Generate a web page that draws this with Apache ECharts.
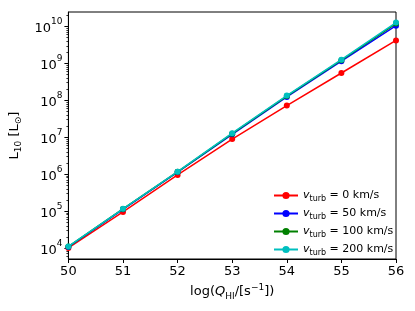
<!DOCTYPE html>
<html><head><meta charset="utf-8">
<script src="https://cdn.jsdelivr.net/npm/echarts@6/dist/echarts.min.js"></script>
<style>html,body{margin:0;padding:0;background:#fff}#c{width:415px;height:311px}</style>
</head><body><div id="c"></div>
<script>
const xValues = [50, 51, 52, 53, 54, 55, 56];
const L_v0   = [1.0e4, 9.5e4, 9.5e5, 8.9e6, 7.2e7, 5.5e8, 4.2e9];
const L_v50  = [1.07e4, 1.12e5, 1.14e6, 1.2e7, 1.24e8, 1.15e9, 1.05e10];
const L_v100 = [1.09e4, 1.14e5, 1.16e6, 1.25e7, 1.3e8, 1.22e9, 1.2e10];
const L_v200 = [1.1e4, 1.15e5, 1.17e6, 1.29e7, 1.35e8, 1.26e9, 1.28e10];
const seriesLabels = ['0 km/s', '50 km/s', '100 km/s', '200 km/s'];
const seriesColors = ['#ff0000', '#0000ff', '#008000', '#00bfbf'];
const yMajorTicks = [1e4, 1e5, 1e6, 1e7, 1e8, 1e9, 1e10];
const xTicks = [50, 51, 52, 53, 54, 55, 56];

const yMinorTicks = [];
for (let e = 3; e <= 10; e++) for (let m = 2; m <= 9; m++) {
  const v = m * Math.pow(10, e);
  if (v > 5035 && v < 2.47e10) yMinorTicks.push(v);
}
const F = 'DejaVu Sans';
const allData = [L_v0, L_v50, L_v100, L_v200];
const chart = echarts.init(document.getElementById('c'), null, {renderer: 'canvas'});
chart.setOption({
  animation: false,
  grid: {left: 64, right: 19, top: 12, bottom: 52, show: true, borderColor: '#000', borderWidth: 1, backgroundColor: 'transparent'},
  xAxis: {
    type: 'value', min: 50, max: 56, interval: 1,
    axisLine: {show: true, onZero: false, lineStyle: {color: '#000', width: 1}},
    axisTick: {show: true, inside: false, length: 4, lineStyle: {color: '#000'}},
    splitLine: {show: false},
    axisLabel: {color: '#000', fontFamily: F, fontSize: 13, margin: 6},
    name: '{n|log(}{i|Q}{s|HI}{n|/[s}{p|−1}{n|])}',
    nameLocation: 'middle', nameGap: 22,
    nameTextStyle: {
      color: '#000', fontFamily: F, fontSize: 13,
      rich: {
        n: {fontFamily: F, fontSize: 13, color: '#000', lineHeight: 18, verticalAlign: 'middle'},
        i: {fontFamily: F, fontSize: 13, color: '#000', fontStyle: 'italic', lineHeight: 18, verticalAlign: 'middle'},
        s: {fontFamily: F, fontSize: 9, color: '#000', lineHeight: 10, verticalAlign: 'bottom'},
        p: {fontFamily: F, fontSize: 9, color: '#000', lineHeight: 10, verticalAlign: 'top'}
      }
    }
  },
  yAxis: [{
    type: 'log', logBase: 10, min: 5035, max: 2.47e10,
    axisLine: {show: true, lineStyle: {color: '#000', width: 1}},
    axisTick: {show: true, inside: false, length: 4, customValues: yMajorTicks, lineStyle: {color: '#000'}},
    splitLine: {show: false},
    minorTick: {show: false},
    axisLabel: {
      customValues: yMajorTicks, margin: 6, color: '#000',
      formatter: function (v) { return '{b|10}{e|' + Math.round(Math.log10(v)) + '}'; },
      rich: {
        b: {fontFamily: F, fontSize: 13, color: '#000', lineHeight: 18, verticalAlign: 'bottom'},
        e: {fontFamily: F, fontSize: 9, color: '#000', lineHeight: 18, verticalAlign: 'top'}
      }
    },
    name: '{n|L}{s|10}{n| [L}{s|⊙}{n|]}',
    nameLocation: 'middle', nameGap: 37, nameRotate: 90,
    nameTextStyle: {
      color: '#000', fontFamily: F, fontSize: 13,
      rich: {
        n: {fontFamily: F, fontSize: 13, color: '#000', lineHeight: 18, verticalAlign: 'middle'},
        s: {fontFamily: F, fontSize: 9, color: '#000', lineHeight: 10, verticalAlign: 'bottom'}
      }
    }
  }, {
    type: 'log', logBase: 10, min: 5035, max: 2.47e10, position: 'left',
    axisLine: {show: false},
    axisTick: {show: true, inside: false, length: 2, customValues: yMinorTicks, lineStyle: {color: '#000', width: 0.8}},
    axisLabel: {show: false},
    splitLine: {show: false}
  }],
  legend: {
    orient: 'vertical', left: 271, top: 188, padding: [2, 2],
    itemWidth: 24, itemHeight: 9, itemGap: 5.5,
    data: seriesLabels.map((s, i) => ({name: 'v' + i})),
    formatter: function (name) {
      const i = +name.slice(1);
      return '{i|v}{s|turb}{n| = ' + seriesLabels[i] + '}';
    },
    textStyle: {
      color: '#000', fontFamily: F, fontSize: 11,
      rich: {
        i: {fontFamily: F, fontSize: 11, fontStyle: 'italic', color: '#000', lineHeight: 14, verticalAlign: 'middle'},
        s: {fontFamily: F, fontSize: 8, color: '#000', lineHeight: 8, verticalAlign: 'bottom'},
        n: {fontFamily: F, fontSize: 11, color: '#000', lineHeight: 14, verticalAlign: 'middle'}
      }
    }
  },
  series: allData.map((arr, i) => ({
    name: 'v' + i, type: 'line', yAxisIndex: 0,
    data: xValues.map((x, j) => [x, arr[j]]),
    symbol: 'circle', symbolSize: 6, showSymbol: true,
    lineStyle: {color: seriesColors[i], width: 1.5},
    itemStyle: {color: seriesColors[i]},
    z: 2 + i
  }))
});
</script></body></html>
